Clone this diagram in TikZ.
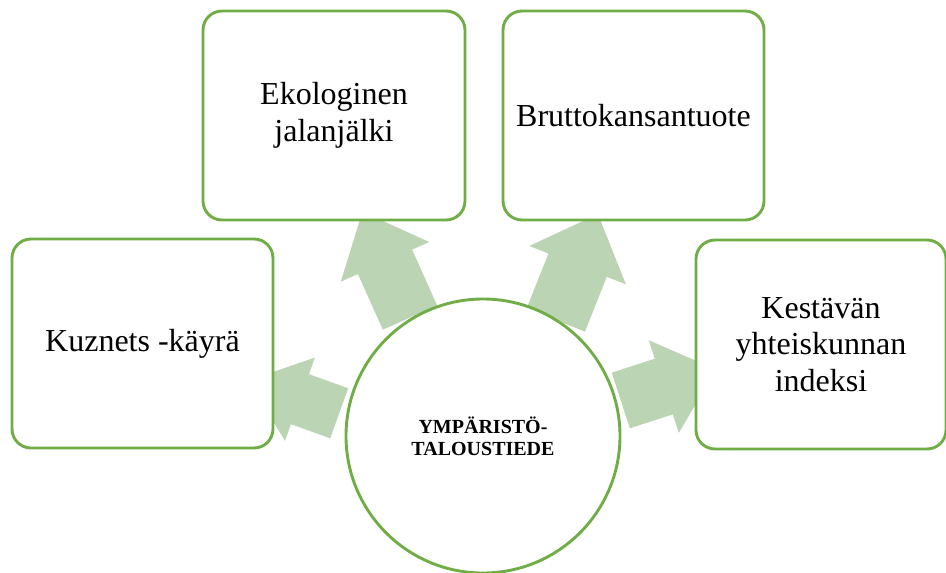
\documentclass[tikz,border=0pt]{standalone}
\usepackage{fontspec}
\setmainfont{Liberation Serif}
\definecolor{gline}{RGB}{112,173,71}
\definecolor{garrow}{RGB}{187,212,180}
\tikzset{
  box/.style={draw=gline, line width=2.9pt, fill=white, rounded corners=19pt,
    minimum height=209pt, inner sep=4pt, align=center,
    font=\fontsize{32}{36.8}\selectfont},
  hub/.style={circle, draw=gline, line width=2.9pt, fill=white, minimum size=274pt,
    inner sep=0pt, align=center, font=\fontsize{20}{22}\selectfont\bfseries},
}
% x, y (tail middle), angle, shaft width, head width, shaft length, head length
\newcommand{\blockarr}[7]{%
  \fill[garrow, shift={(#1,#2)}, rotate=#3]
    (0,-#4/2) -- (#6,-#4/2) -- (#6,-#5/2) -- (#6+#7,0) -- (#6,#5/2) -- (#6,#4/2) -- (0,#4/2) -- cycle;
}
\begin{document}
\begin{tikzpicture}[x=1pt,y=-1pt]
\useasboundingbox (0,0) rectangle (946,573);
% block arrows (under boxes and hub)
\blockarr{410}{317.5}{114.2}{59.5}{97}{61}{55}
\blockarr{555.8}{320}{68.3}{62.8}{104}{59}{55}
\blockarr{620.8}{400.5}{18}{58.5}{97.4}{45.2}{55}
\blockarr{339.2}{413.3}{160.2}{53.2}{88.5}{41.7}{55}
% boxes
\node[box, minimum width=261pt] (kuz) at (142.5,343.5) {Kuznets -käyrä};
\node[box, minimum width=262pt] (eko) at (334,115.5) {Ekologinen\\jalanjälki};
\node[box, minimum width=261pt] (bkt) at (633.5,115.5) {Bruttokansantuote};
\node[box, minimum width=250pt] (kes) at (821,344.5) {Kestävän\\yhteiskunnan\\indeksi};
% hub
\node[hub] (hub) at (483,436) {YMPÄRISTÖ-\\TALOUSTIEDE};
\end{tikzpicture}
\end{document}
